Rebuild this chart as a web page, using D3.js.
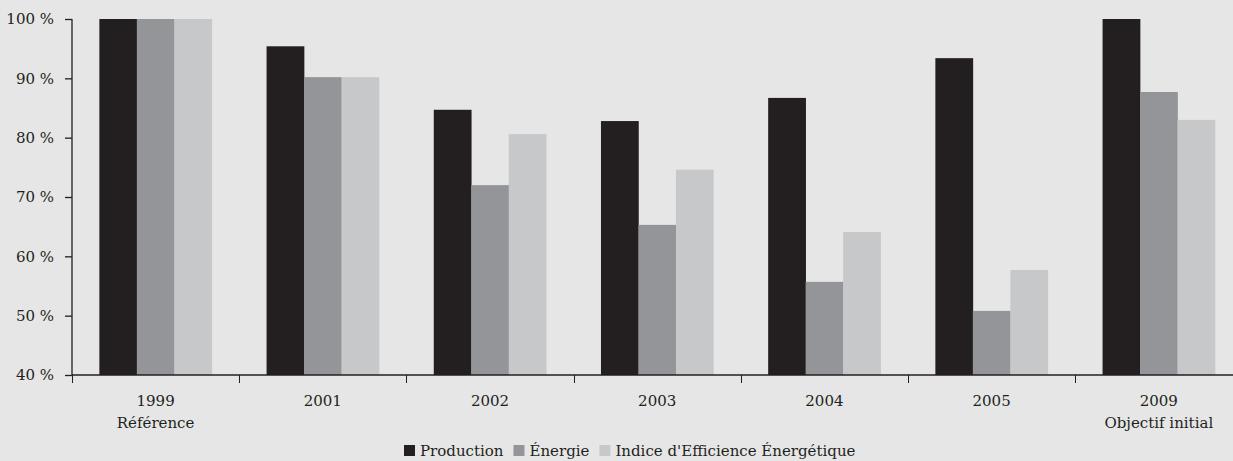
<!DOCTYPE html>
<html>
<head>
<meta charset="utf-8">
<script src="https://cdn.jsdelivr.net/npm/d3@7"></script>
<style>
  body { margin: 0; background: #e6e6e6; }
  svg { display: block; font-family: "DejaVu Serif", serif; }
</style>
</head>
<body>
<div id="chart"></div>
<script>
// categories (two-line labels) and series values, in percent
var years = ["1999", "2001", "2002", "2003", "2004", "2005", "2009"];
var subLabels = ["Référence", "", "", "", "", "", "Objectif initial"];
var seriesNames = ["Production", "Énergie", "Indice d'Efficience Énergétique"];
var production = [100, 95.4, 84.7, 82.8, 86.7, 93.4, 100];
var energie = [100, 90.2, 72.0, 65.3, 55.7, 50.8, 87.7];
var indice = [100, 90.2, 80.6, 74.6, 64.1, 57.7, 83.0];
var yTicks = [40, 50, 60, 70, 80, 90, 100];
var colors = ["#231f20", "#939598", "#c7c8ca"];

var W = 1233, H = 461;
var margin = {top: 19, left: 72, bottom: 86};
var bandW = 167.2;
var fs = 15;

var svg = d3.select("#chart").append("svg")
    .attr("width", W)
    .attr("height", H);

svg.append("rect").attr("width", W).attr("height", H).attr("fill", "#e6e6e6");

var x = d3.scaleBand()
    .domain(years)
    .range([margin.left, margin.left + bandW * years.length])
    .paddingInner(0)
    .paddingOuter(0);

var x1 = d3.scaleBand()
    .domain(d3.range(3))
    .range([0, x.bandwidth()])
    .paddingInner(0)
    .paddingOuter(0.73);

var y = d3.scaleLinear()
    .domain([40, 100])
    .range([H - margin.bottom, margin.top]);

var data = [production, energie, indice];

//Bars
var groups = svg.append("g").selectAll("g")
    .data(years)
    .join("g")
    .attr("transform", function (d) { return "translate(" + x(d) + ",0)"; });

groups.selectAll("rect")
    .data(function (d, i) {
        return data.map(function (s, k) { return {k: k, v: s[i]}; });
    })
    .join("rect")
    .attr("x", function (d) { return x1(d.k); })
    .attr("width", x1.bandwidth() + 0.3)
    .attr("y", function (d) { return y(d.v); })
    .attr("height", function (d) { return y(40) - y(d.v); })
    .attr("fill", function (d) { return colors[d.k]; });

//Y axis
var yAxis = svg.append("g")
    .attr("transform", "translate(" + margin.left + ",0)")
    .call(d3.axisLeft(y).tickValues(yTicks).tickSize(7).tickPadding(11)
        .tickFormat(function (d) { return d + " %"; }));
yAxis.select(".domain").attr("d", "M0," + y(100) + "V" + y(40));

//X axis, ticks on band boundaries
var xAxis = svg.append("g")
    .attr("transform", "translate(0," + y(40) + ")");
xAxis.append("line")
    .attr("x1", margin.left).attr("x2", W)
    .attr("stroke", "#231f20").attr("stroke-width", 1.3);
xAxis.selectAll(".tk")
    .data(years)
    .join("line")
    .attr("class", "tk")
    .attr("x1", function (d) { return Math.round(x(d)) + 0.5; })
    .attr("x2", function (d) { return Math.round(x(d)) + 0.5; })
    .attr("y1", 0).attr("y2", 8)
    .attr("stroke", "#231f20");

var labels = xAxis.selectAll(".lbl")
    .data(years)
    .join("text")
    .attr("class", "lbl")
    .attr("text-anchor", "middle")
    .attr("fill", "#231f20")
    .attr("font-size", fs);
labels.append("tspan")
    .attr("x", function (d) { return x(d) + x.bandwidth() / 2; })
    .attr("y", 31)
    .text(function (d) { return d; });
labels.append("tspan")
    .attr("x", function (d) { return x(d) + x.bandwidth() / 2; })
    .attr("y", 53)
    .text(function (d, i) { return subLabels[i]; });

yAxis.selectAll("text").attr("font-size", fs).attr("fill", "#231f20")
    .attr("font-family", "DejaVu Serif, serif");
yAxis.selectAll("line, path").attr("stroke", "#231f20").attr("stroke-width", 1.3);

//Legend
var legend = svg.append("g").attr("transform", "translate(0," + (H - 5) + ")");
var lx = 404;
seriesNames.forEach(function (name, k) {
    legend.append("rect")
        .attr("x", lx).attr("y", -11)
        .attr("width", 11).attr("height", 11)
        .attr("fill", colors[k]);
    var t = legend.append("text")
        .attr("x", lx + 16).attr("y", 0)
        .attr("font-size", fs)
        .attr("fill", "#231f20")
        .text(name);
    lx += 16 + t.node().getComputedTextLength() + 10;
});
</script>
</body>
</html>
